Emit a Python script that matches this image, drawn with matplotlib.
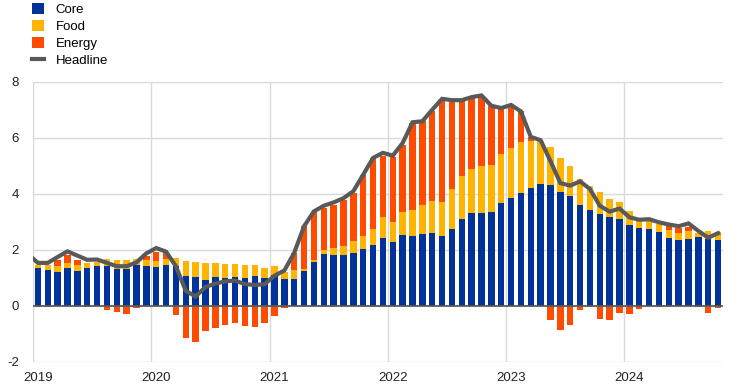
import numpy as np
import matplotlib
matplotlib.use("Agg")
import matplotlib.pyplot as plt
from matplotlib.patches import Patch
from matplotlib.lines import Line2D

plt.rcParams['font.family'] = ['Liberation Sans', 'DejaVu Sans']
plt.rcParams['axes.unicode_minus'] = False

years = ["2019", "2020", "2021", "2022", "2023", "2024"]

core = [1.37, 1.30, 1.23, 1.37, 1.26, 1.37, 1.44, 1.44, 1.33, 1.33, 1.48, 1.44,
        1.41, 1.48, 1.44, 1.08, 1.02, 0.94, 1.05, 1.01, 1.04, 1.01, 1.08, 1.01,
        1.12, 0.98, 0.98, 1.26, 1.58, 1.87, 1.83, 1.83, 1.90, 2.05, 2.19, 2.44,
        2.30, 2.55, 2.51, 2.58, 2.62, 2.51, 2.76, 3.12, 3.33, 3.33, 3.37, 3.69,
        3.87, 4.05, 4.23, 4.34, 4.31, 4.06, 3.92, 3.62, 3.44, 3.30, 3.19, 3.12,
        2.90, 2.80, 2.76, 2.65, 2.44, 2.37, 2.40, 2.48, 2.40, 2.37]

food = [0.08, 0.15, 0.21, 0.18, 0.21, 0.18, 0.14, 0.24, 0.32, 0.32, 0.20, 0.21,
        0.20, 0.21, 0.27, 0.54, 0.56, 0.61, 0.48, 0.50, 0.45, 0.46, 0.39, 0.36,
        0.32, 0.25, 0.29, 0.07, 0.07, 0.14, 0.25, 0.32, 0.43, 0.46, 0.57, 0.73,
        0.71, 0.79, 0.93, 1.04, 1.14, 1.21, 1.43, 1.54, 1.57, 1.68, 1.68, 1.75,
        1.79, 1.79, 1.68, 1.54, 1.37, 1.23, 1.07, 0.93, 0.83, 0.76, 0.64, 0.58,
        0.50, 0.27, 0.33, 0.27, 0.29, 0.25, 0.29, 0.14, 0.29, 0.28]

energy = [-0.05, -0.04, 0.21, 0.28, 0.19, -0.04, 0.00, -0.15, -0.23, -0.27, -0.08, 0.14,
          0.33, 0.25, -0.33, -1.16, -1.27, -0.88, -0.77, -0.67, -0.60, -0.71, -0.74, -0.59,
          -0.37, -0.06, 0.64, 1.52, 1.71, 1.49, 1.54, 1.62, 1.71, 2.16, 2.53, 2.20,
          2.31, 2.42, 3.10, 2.98, 3.19, 3.65, 3.12, 2.65, 2.53, 2.45, 2.08, 1.63,
          1.44, 1.12, 0.11, 0.03, -0.49, -0.87, -0.69, -0.13, -0.05, -0.48, -0.49, -0.24,
          -0.27, -0.09, 0.00, -0.04, 0.11, 0.17, 0.14, -0.04, -0.24, -0.08]

# headline starts one month earlier (Dec 2018), clipped by the axis
headline = [1.85,
            1.54, 1.54, 1.75, 1.95, 1.80, 1.65, 1.66, 1.54, 1.42, 1.42, 1.56, 1.88,
            2.07, 1.94, 1.42, 0.54, 0.34, 0.68, 0.80, 0.88, 0.91, 0.78, 0.75, 0.78,
            1.08, 1.27, 1.90, 2.85, 3.38, 3.58, 3.70, 3.85, 4.10, 4.69, 5.29, 5.47,
            5.37, 5.82, 6.56, 6.60, 7.01, 7.40, 7.35, 7.35, 7.46, 7.52, 7.15, 7.07,
            7.18, 6.95, 6.04, 5.92, 5.17, 4.39, 4.30, 4.45, 4.18, 3.58, 3.37, 3.48,
            3.17, 3.08, 3.10, 2.99, 2.91, 2.85, 2.95, 2.68, 2.44, 2.60]

C_CORE = '#003299'
C_FOOD = '#ffb400'
C_ENERGY = '#ff4b00'
C_LINE = '#595959'

core_a = np.array(core)
food_a = np.array(food)
en_a = np.array(energy)
x = np.arange(len(core_a))
xh = np.arange(len(headline)) - 1

fig = plt.figure(figsize=(7.42, 3.88), dpi=100)
ax = fig.add_axes([33/742, 1-362/388, (723-33)/742, (362-82)/388])

w = 0.65
ax.bar(x, core_a, width=w, color=C_CORE, zorder=2)
ax.bar(x, food_a, width=w, bottom=core_a, color=C_FOOD, zorder=2)
en_bottom = np.where(en_a >= 0, core_a + food_a, 0.0)
ax.bar(x, en_a, width=w, bottom=en_bottom, color=C_ENERGY, zorder=2)
ax.plot(xh, headline, color=C_LINE, lw=3.0, zorder=4, solid_joinstyle='miter')

ax.axhline(0, color=C_LINE, lw=1.3, zorder=3)

ax.set_xlim(-0.5, len(core_a) - 0.5)
ax.set_ylim(-2, 8)
ax.set_yticks([-2, 0, 2, 4, 6, 8])
ax.set_xticks(np.arange(len(years)) * 12)
ax.set_xticklabels(years)
for v in [-2, 2, 4, 6, 8]:
    ax.axhline(v, color='#d9d9d9', lw=1.0, zorder=0)
for k in range(len(years)):
    ax.axvline(-0.5 + 12 * k, color='#d9d9d9', lw=1.0, zorder=0)

for s in ax.spines.values():
    s.set_visible(False)
ax.tick_params(axis='both', length=0, labelsize=9.5, colors='#222222')
ax.tick_params(axis='y', pad=10)
ax.tick_params(axis='x', pad=7)

handles = [Patch(facecolor=C_CORE, label='Core'),
           Patch(facecolor=C_FOOD, label='Food'),
           Patch(facecolor=C_ENERGY, label='Energy'),
           Line2D([0], [0], color=C_LINE, lw=3.0, label='Headline')]
fig.legend(handles=handles, loc='upper left', bbox_to_anchor=(29/742, 1 - 0/388),
           frameon=False, fontsize=9.5, handlelength=0.9, handleheight=0.9,
           handletextpad=0.9, labelspacing=0.3, borderaxespad=0.0, borderpad=0.2)

fig.savefig('out.png', dpi=100)
